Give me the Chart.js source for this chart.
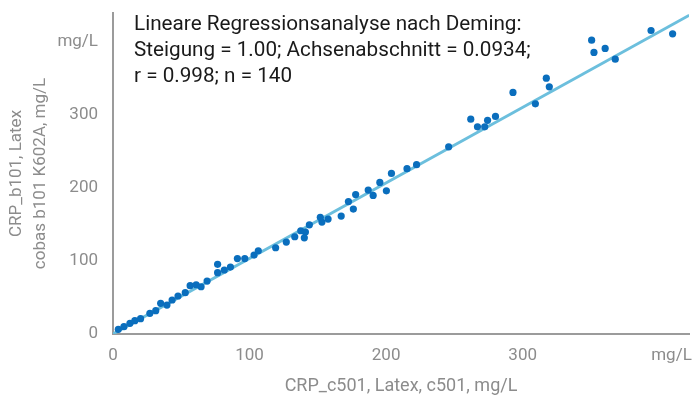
<!DOCTYPE html>
<html>
<head>
<meta charset="utf-8">
<title>Deming Regression CRP</title>
<script src="https://cdn.jsdelivr.net/npm/chart.js@4.4.1/dist/chart.umd.min.js"></script>
<style>
    html, body { margin: 0; padding: 0; background: #fff; }
    #wrap { width: 693px; height: 401px; }
</style>
</head>
<body>
<div id="wrap"><canvas id="myChart" width="693" height="401"></canvas></div>
<script>
const xValues = [3.9, 8.0, 12.4, 16.0, 20.2, 27.0, 31.3, 34.9, 39.5, 43.3, 47.6, 52.9, 56.5, 60.9, 64.5, 68.9,
    76.6, 76.6, 81.5, 86.0, 91.1, 96.5, 103.3, 106.4, 119.1, 126.9, 133.1, 137.5, 140.9, 140.1, 143.8,
    151.8, 153.0, 157.5, 167.1, 172.4, 176.0, 177.7, 186.9, 190.5, 195.4, 200.2, 203.9, 215.3, 222.3,
    245.8, 262.0, 266.9, 272.2, 274.3, 280.1, 292.9, 309.3, 317.3, 319.5, 350.5, 352.2, 360.4, 367.8,
    394.0, 409.8];
const yValues = [6.4, 10.0, 14.7, 18.2, 21.0, 28.4, 32.0, 42.0, 39.7, 46.6, 52.1, 56.6, 66.2, 67.5, 64.8, 72.6,
    95.5, 84.0, 87.7, 91.8, 103.4, 103.4, 108.2, 114.1, 118.2, 126.0, 133.3, 141.5, 139.7, 131.8, 149.7,
    159.9, 153.4, 157.5, 161.6, 181.5, 171.2, 191.1, 197.3, 190.0, 207.8, 196.3, 220.1, 226.6, 232.1,
    256.6, 294.5, 284.0, 284.0, 292.9, 298.2, 331.1, 315.5, 350.7, 338.8, 402.7, 385.9, 391.4, 376.7,
    416.0, 411.4];

// regression line ends
const regX = [0, 422];
const regY = [0.09, 437];

const xTicks = [0, 100, 200, 300, 409];
const xTickLabels = ['0', '100', '200', '300', 'mg/L'];
const yTicks = [0, 100, 200, 300, 400];
const yTickLabels = ['0', '100', '200', '300', 'mg/L'];

const xTitle = 'CRP_c501, Latex, c501, mg/L';
const yTitle = ['CRP_b101, Latex', 'cobas b101 K602A, mg/L'];
const noteLines = [
    'Lineare Regressionsanalyse nach Deming:',
    'Steigung = 1.00; Achsenabschnitt = 0.0934;',
    'r = 0.998; n = 140'
];

const grey = '#8c8c8c';
const axisFont = { family: 'Roboto', size: 17 };

const pointList = xValues.map((x, i) => ({ x: x, y: yValues[i] }));
const lineList = regX.map((x, i) => ({ x: x, y: regY[i] }));

// text block in the upper left
const notePlugin = {
    id: 'note',
    afterDraw(chart) {
        const ctx = chart.ctx;
        ctx.save();
        ctx.font = '20.7px Roboto';
        ctx.fillStyle = '#1a1a1a';
        ctx.textBaseline = 'alphabetic';
        noteLines.forEach((t, i) => ctx.fillText(t, 134, 30 + i * 26));
        ctx.restore();
    }
};

const ctx = document.getElementById('myChart');
new Chart(ctx, {
    type: 'scatter',
    data: {
        datasets: [{
            data: pointList,
            backgroundColor: '#0a6ebd',
            borderWidth: 0,
            pointRadius: 3.6,
            order: 1
        }, {
            data: lineList,
            showLine: true,
            borderColor: '#6cbfdd',
            borderWidth: 3,
            pointRadius: 0,
            order: 2
        }]
    },
    options: {
        responsive: false,
        animation: false,
        devicePixelRatio: 1,
        layout: { padding: { left: 0, right: 0, top: 13, bottom: 0 } },
        plugins: { legend: { display: false }, tooltip: { enabled: false } },
        scales: {
            x: {
                type: 'linear',
                min: 0,
                max: 421.8,
                afterBuildTicks: s => { s.ticks = xTicks.map(v => ({ value: v })); },
                afterFit: s => { s.height = 67; s.paddingLeft = 0; s.paddingRight = 0; },
                grid: { display: false, drawTicks: false },
                border: { display: true, color: '#9b9b9b', width: 2 },
                ticks: {
                    autoSkip: false, maxRotation: 0, padding: 12, color: grey, font: axisFont,
                    callback: (v, i) => xTickLabels[i]
                },
                title: { display: true, text: xTitle, color: grey, font: { family: 'Roboto', size: 18 }, padding: { top: 0, bottom: 4 } }
            },
            y: {
                type: 'linear',
                min: 0,
                max: 440,
                afterBuildTicks: s => { s.ticks = yTicks.map(v => ({ value: v })); },
                afterFit: s => { s.width = 113; s.paddingTop = 0; s.paddingBottom = 0; },
                grid: { display: false, drawTicks: false },
                border: { display: true, color: '#9b9b9b', width: 2 },
                ticks: {
                    autoSkip: false, padding: 15, color: grey, font: axisFont,
                    callback: (v, i) => yTickLabels[i]
                },
                title: { display: true, text: yTitle, color: grey, font: { family: 'Roboto', size: 17, lineHeight: 1.4 }, padding: { top: 5, bottom: 0 } }
            }
        }
    },
    plugins: [notePlugin]
});
</script>
</body>
</html>
